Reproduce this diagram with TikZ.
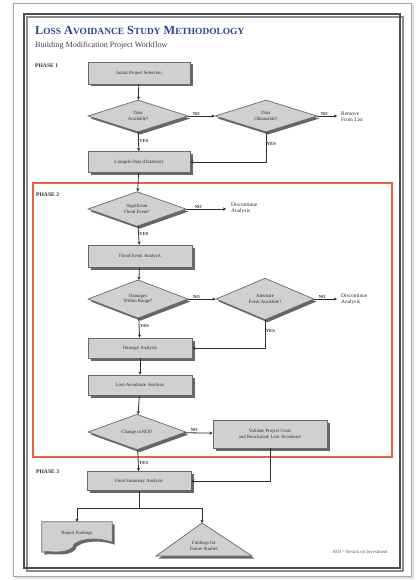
\documentclass[tikz,border=0pt]{standalone}
\usepackage{fontspec}
\setmainfont{Liberation Serif}
\usetikzlibrary{shapes.geometric,arrows.meta,shadows,calc}
\definecolor{titleblue}{RGB}{40,70,140}
\definecolor{phasered}{RGB}{228,98,72}
\definecolor{boxfill}{RGB}{208,208,208}
\definecolor{boxline}{RGB}{105,105,105}
\definecolor{inkgray}{RGB}{45,45,45}
\newcommand\scw[2]{#1{\fontsize{9.4}{9.4}\selectfont #2}}
\tikzset{
  shade/.style={drop shadow={shadow xshift=2.5pt,shadow yshift=-2.5pt,fill=black!70,opacity=0.85}},
  procbox/.style={rectangle,draw=boxline,line width=0.7pt,fill=boxfill,shade,
    inner sep=1pt,align=center,font=\fontsize{4.8}{5.5}\selectfont,text=inkgray},
  decision/.style={diamond,draw=boxline,line width=0.7pt,fill=boxfill,shade,
    inner sep=0pt,align=center,font=\fontsize{4.8}{5.5}\selectfont,text=inkgray},
  lbl/.style={font=\bfseries\fontsize{4.6}{5}\selectfont,text=inkgray,inner sep=0.5pt},
  plain/.style={font=\fontsize{5.4}{6.2}\selectfont,text=inkgray,align=left,inner sep=0pt},
  phase/.style={font=\bfseries\fontsize{5.6}{6}\selectfont,text=inkgray,anchor=west,inner sep=0pt},
  flow/.style={draw=inkgray,line width=0.8pt,-{Stealth[length=3.2pt,width=3.2pt]}},
  link/.style={draw=inkgray,line width=0.8pt},
}
\begin{document}
\begin{tikzpicture}[x=1pt,y=-1pt]
\useasboundingbox (0,0) rectangle (419,580);
\fill[white] (0,0) rectangle (419,580);
% sheet and its frame
\fill[black!12] (15,5) rectangle (414,579);
\draw[fill=white,draw=black!35,line width=0.6pt] (13,3) rectangle (411,576);
\draw[black!45,line width=1.6pt] (27,17) rectangle (403,571);
\draw[black!70,line width=2.6pt] (24,14) rectangle (400,568);

% title block
\node[anchor=west,inner sep=0pt,text=titleblue,font=\bfseries\fontsize{12.3}{13}\selectfont]
  (title) at (35,31) {\scw{L}{OSS} \scw{A}{VOIDANCE} \scw{S}{TUDY} \scw{M}{ETHODOLOGY}};
\node[anchor=west,inner sep=0pt,text=black!75,font=\fontsize{8.1}{9}\selectfont]
  (subtitle) at (35,46) {Building Modification Project Workflow};

% phase 2 frame
\draw[phasered!45,line width=2.4pt] (33,183) rectangle (392,457);
\draw[phasered,line width=1.4pt] (33,183) rectangle (392,457);

\node[phase] (ph1) at (35,66) {PHASE 1};
\node[phase] (ph2) at (36,195) {PHASE 2};
\node[phase] (ph3) at (36,472) {PHASE 3};

% phase 1
\node[procbox,minimum width=102pt,minimum height=22pt] (b1) at (139,73) {Initial Project Selection};
\node[decision,minimum width=100pt,minimum height=32pt] (d1) at (138,116) {Data\\Available?};
\node[decision,minimum width=102pt,minimum height=32pt] (d2) at (266,116) {Data\\Obtainable?};
\coordinate (r1) at (337,116);
\node[plain,anchor=west] (remove) at (341,117) {Remove\\From List};
\node[procbox,minimum width=102pt,minimum height=21pt] (b2) at (139,162) {Compile Data (Database)};

% phase 2
\node[decision,minimum width=98pt,minimum height=28pt] (d3) at (137,209) {Significant\\Flood Event?};
\coordinate (r2) at (226,209);
\node[plain,anchor=west] (disc1) at (231,208) {Discontinue\\Analysis};
\node[procbox,minimum width=104pt,minimum height=22pt] (b3) at (140,256) {Flood Event Analysis};
\node[decision,minimum width=100pt,minimum height=31pt] (d4) at (138,299) {Damages\\Within Range?};
\node[decision,minimum width=98pt,minimum height=31pt] (d5) at (265,299) {Alternate\\Event Available?};
\coordinate (r3) at (337,299);
\node[plain,anchor=west] (disc2) at (341,299) {Discontinue\\Analysis};
\node[procbox,minimum width=104pt,minimum height=20pt] (b4) at (140,348) {Damage Analysis};
\node[procbox,minimum width=104pt,minimum height=20pt] (b5) at (140,385) {Loss Avoidance Analysis};
\node[decision,minimum width=98pt,minimum height=29pt] (d6) at (137,432) {Change in ROI?};
\node[procbox,minimum width=114pt,minimum height=28pt] (b6) at (270,434) {Validate Project Costs\\and Recalculate Loss Avoidance};

% phase 3
\node[procbox,minimum width=104pt,minimum height=19pt] (b7) at (139,481) {Final Summary Analysis};
\coordinate (split) at (139,508);

% report document with wavy lower edge
\node[inner sep=0pt,minimum width=70pt,minimum height=22pt,align=center,
  font=\fontsize{4.8}{5.5}\selectfont,text=inkgray] (doc) at (77,533) {Report Findings};
\path[fill=boxfill,draw=boxline,line width=0.7pt,shade]
  (doc.north west) -- (doc.north east) -- ($(doc.south east)+(0,-2)$)
  .. controls ($(doc.south east)+(-20,-9)$) and ($(doc.south)+(-5,-3)$) .. ($(doc.south)+(-4,3)$)
  .. controls ($(doc.south west)+(22,11)$) and ($(doc.south west)+(8,6)$) .. ($(doc.south west)+(0,8)$)
  -- cycle;
\node[inner sep=0pt,align=center,font=\fontsize{4.8}{5.5}\selectfont,text=inkgray] at (doc) {Report Findings};

% findings triangle
\coordinate (apex) at (202,523);
\path[fill=boxfill,draw=boxline,line width=0.7pt,shade]
  (apex) -- (252,556) -- (156,556) -- cycle;
\node[inner sep=0pt,align=center,font=\fontsize{4.8}{5.5}\selectfont,text=inkgray] (tri) at (204,546) {Findings for\\Future Studies};

\node[anchor=east,inner sep=0pt,font=\fontsize{4.8}{5}\selectfont,text=black!65] (note) at (388,552) {ROI = Return on Investment};

% connectors
\draw[flow] (b1) -- (d1);
\draw[flow] (d1) -- node[lbl,above,pos=0.3] {NO} (d2);
\draw[flow] (d2) -- node[lbl,above,pos=0.35] {NO} (r1);
\draw[flow] (d1) -- node[lbl,right,pos=0.45] {YES} (b2);
\draw[flow] (d2.south) |- node[lbl,right,pos=0.2] {YES} (b2.east);

\draw[flow] (b2) -- (d3);
\draw[flow] (d3) -- node[lbl,above,pos=0.3] {NO} (r2);
\draw[flow] (d3) -- node[lbl,right,pos=0.4] {YES} (b3);
\draw[flow] (b3) -- (d4);
\draw[flow] (d4) -- node[lbl,above,pos=0.3] {NO} (d5);
\draw[flow] (d5) -- node[lbl,above,pos=0.35] {NO} (r3);
\draw[flow] (d4) -- node[lbl,right,pos=0.4] {YES} (b4);
\draw[flow] (d5.south) |- node[lbl,right,pos=0.2] {YES} (b4.east);
\draw[flow] (b4) -- (b5);
\draw[flow] (b5) -- (d6);
\draw[flow] (d6) -- node[lbl,above,pos=0.35] {NO} (b6);
\draw[flow] (d6) -- node[lbl,right,pos=0.6] {YES} (b7);
\draw[flow] (b6.south) |- (b7.east);

\draw[link] (b7) -- (split);
\draw[flow] (split) -| (doc.north);
\draw[flow] (split) -| (apex);
\end{tikzpicture}
\end{document}
